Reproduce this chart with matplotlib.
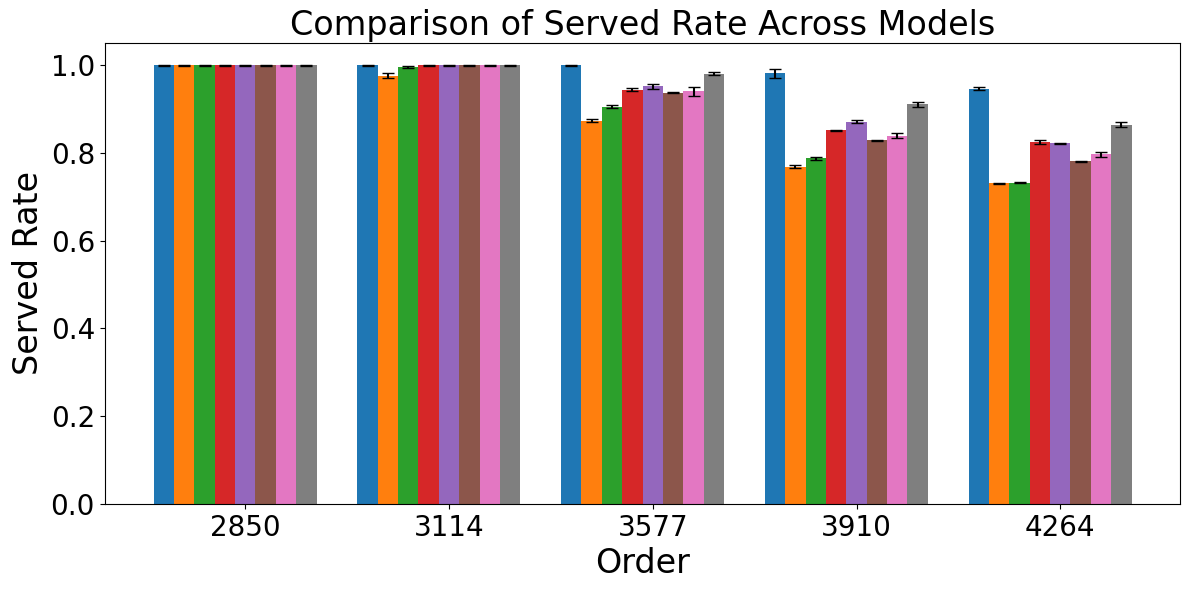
import numpy as np
import matplotlib
matplotlib.use("Agg")
import matplotlib.pyplot as plt

orders = ["2850", "3114", "3577", "3910", "4264"]
models = ["M1", "M2", "M3", "M4", "M5", "M6", "M7", "M8"]

# served rate per model, one list per order
rate_2850 = [1.000, 1.000, 1.000, 1.000, 1.000, 1.000, 1.000, 1.000]
rate_3114 = [1.000, 0.977, 0.997, 1.000, 1.000, 1.000, 1.000, 1.000]
rate_3577 = [1.000, 0.874, 0.906, 0.945, 0.952, 0.938, 0.941, 0.981]
rate_3910 = [0.982, 0.769, 0.788, 0.852, 0.872, 0.829, 0.840, 0.911]
rate_4264 = [0.947, 0.731, 0.733, 0.826, 0.822, 0.781, 0.797, 0.865]

err_2850 = [0.001, 0.001, 0.001, 0.001, 0.001, 0.001, 0.001, 0.001]
err_3114 = [0.001, 0.005, 0.002, 0.001, 0.001, 0.001, 0.001, 0.001]
err_3577 = [0.001, 0.003, 0.004, 0.004, 0.005, 0.001, 0.010, 0.003]
err_3910 = [0.010, 0.004, 0.003, 0.001, 0.004, 0.002, 0.005, 0.005]
err_4264 = [0.004, 0.001, 0.001, 0.005, 0.002, 0.002, 0.005, 0.006]

rates = np.array([rate_2850, rate_3114, rate_3577, rate_3910, rate_4264])
errs = np.array([err_2850, err_3114, err_3577, err_3910, err_4264])

fig, ax = plt.subplots(figsize=(11.9, 5.9), dpi=100)
x = np.arange(len(orders))
width = 0.1
n = len(models)
for i, m in enumerate(models):
    ax.bar(x + (i - n / 2) * width, rates[:, i], width, yerr=errs[:, i],
           capsize=4, label=m, color="C%d" % i)

ax.set_xticks(x)
ax.set_xticklabels(orders)
ax.set_title("Comparison of Served Rate Across Models", fontsize=24)
ax.set_xlabel("Order", fontsize=24)
ax.set_ylabel("Served Rate", fontsize=24)
ax.tick_params(axis="both", labelsize=20)
fig.subplots_adjust(left=0.088, right=0.992, top=0.927, bottom=0.146)
fig.savefig("out.png")
